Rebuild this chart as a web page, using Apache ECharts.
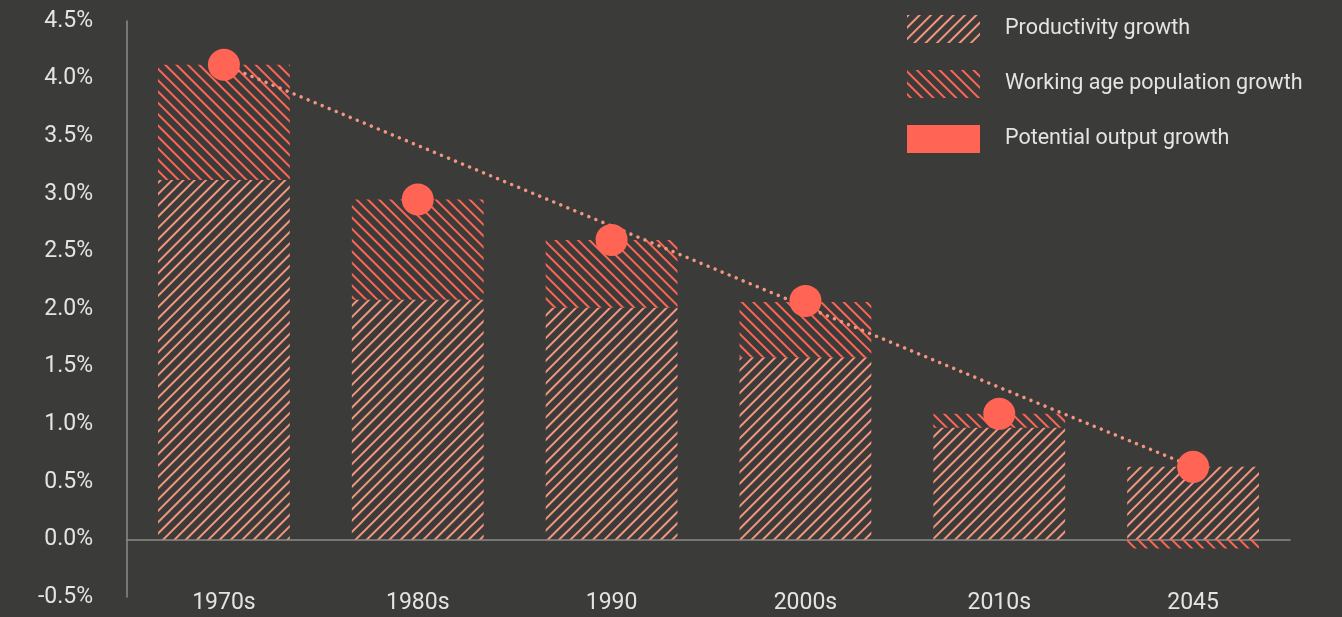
<!DOCTYPE html>
<html>
<head>
<meta charset="utf-8">
<script src="https://cdn.jsdelivr.net/npm/echarts@6/dist/echarts.min.js"></script>
<style>
  html, body { margin: 0; padding: 0; background: #3b3b39; }
  #chart { width: 1342px; height: 617px; }
</style>
</head>
<body>
<div id="chart"></div>
<script>
// data
var periods = ['1970s', '1980s', '1990', '2000s', '2010s', '2045'];
var productivity = [3.12, 2.08, 2.01, 1.58, 0.97, 0.63];
var workingAge = [1.0, 0.87, 0.59, 0.48, 0.12, -0.08];
var potential = [4.12, 2.95, 2.60, 2.07, 1.09, 0.63];
var trend = [4.12, 3.42, 2.72, 2.02, 1.32, 0.63];

var bg = '#3b3b39';
var coral = '#ff6455';
var salmon = '#f3957f';
var textCol = '#e4e4e2';
var axisCol = '#8c8c8a';
var font = 'Roboto, "Noto Sans", sans-serif';

var myChart = echarts.init(document.querySelector('#chart'));

var option = {
    backgroundColor: bg,
    animation: false,
    grid: { left: 127, right: 52, top: 21, bottom: 20, outerBoundsMode: 'none', containLabel: false },
    legend: {
        orient: 'vertical',
        left: 902,
        top: 10,
        itemWidth: 73,
        itemHeight: 28,
        itemGap: 27,
        textStyle: { color: textCol, fontSize: 21.5, fontFamily: font, padding: [0, 0, 0, 20] },
        data: [
            { name: 'Productivity growth', icon: 'rect' },
            { name: 'Working age population growth', icon: 'rect' },
            { name: 'Potential output growth', icon: 'rect' }
        ]
    },
    xAxis: [
        {
            // labels along the bottom
            type: 'category',
            data: periods,
            position: 'bottom',
            axisLine: { show: false, onZero: false },
            axisTick: { show: false },
            axisLabel: { color: textCol, fontSize: 23, fontFamily: font, margin: -5 }
        },
        {
            // the zero line
            type: 'category',
            data: periods,
            axisLine: { onZero: true, lineStyle: { color: axisCol, width: 1.5 } },
            axisTick: { show: false },
            axisLabel: { show: false }
        }
    ],
    yAxis: {
        type: 'value',
        min: -0.5,
        max: 4.5,
        interval: 0.5,
        splitLine: { show: false },
        axisTick: { show: false },
        axisLine: { show: true, lineStyle: { color: axisCol, width: 1.5 } },
        axisLabel: {
            color: textCol, fontSize: 23, fontFamily: font, margin: 34,
            formatter: function (v) { return v.toFixed(1) + '%'; }
        }
    },
    series: [
        {
            name: 'Productivity growth',
            type: 'bar',
            stack: 'g',
            barWidth: '68%',
            data: productivity,
            itemStyle: {
                color: 'rgba(0,0,0,0)',
                decal: {
                    symbol: 'rect', symbolSize: 1,
                    dashArrayX: [1, 0], dashArrayY: [1.6, 5.4],
                    rotation: -Math.PI / 4, color: salmon
                }
            }
        },
        {
            name: 'Working age population growth',
            type: 'bar',
            stack: 'g',
            barWidth: '68%',
            data: workingAge,
            itemStyle: {
                color: 'rgba(0,0,0,0)',
                decal: {
                    symbol: 'rect', symbolSize: 1,
                    dashArrayX: [1, 0], dashArrayY: [1.6, 5.4],
                    rotation: Math.PI / 4, color: coral
                }
            }
        },
        {
            name: 'trend',
            type: 'line',
            data: trend,
            symbol: 'none',
            z: 3,
            lineStyle: { color: salmon, width: 3.5, type: [0.1, 7.5], cap: 'round' }
        },
        {
            name: 'Potential output growth',
            type: 'scatter',
            data: potential,
            symbolSize: 32,
            z: 4,
            itemStyle: { color: coral, opacity: 1 }
        }
    ]
};

myChart.setOption(option);
</script>
</body>
</html>
